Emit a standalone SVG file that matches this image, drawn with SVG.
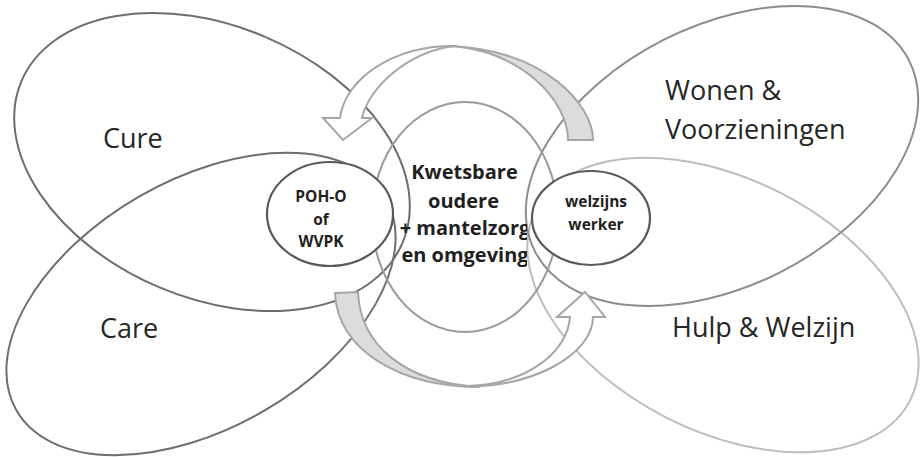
<svg xmlns="http://www.w3.org/2000/svg" width="920" height="457" viewBox="0 0 920 457">
  <defs>
    <style>
      .lobe { fill: none; stroke-width: 2; }
      .cure { stroke: #6e6e6e; }
      .care { stroke: #6e6e6e; }
      .wonen { stroke: #8c8c8c; }
      .hulp { stroke: #bdbdbd; }
      .core { fill: none; stroke: #9a9a9a; stroke-width: 2; }
      .role { fill: #ffffff; stroke: #595959; stroke-width: 2.2; }
      .arrow-front { fill: #ffffff; stroke: #a6a6a6; stroke-width: 2; stroke-linejoin: miter; }
      .arrow-back { fill: #dcdcdc; stroke: #a6a6a6; stroke-width: 2; stroke-linejoin: miter; }
      .big { font-family: "Open Sans", "Noto Sans", sans-serif; font-size: 27px; fill: #262626; }
      .bold { font-family: "Open Sans", "Noto Sans", sans-serif; font-weight: bold; fill: #1f1f1f; }
    </style>
    <clipPath id="coreclip">
      <rect x="380" y="150" width="147" height="130"/>
    </clipPath>
  </defs>

  <g id="hulp-welzijn">
    <ellipse class="lobe hulp" cx="723" cy="305" rx="210" ry="126" transform="rotate(27 723 305)"/>
    <text class="big" x="672" y="337">Hulp &amp; Welzijn</text>
  </g>
  <g id="wonen-voorzieningen">
    <ellipse class="lobe wonen" cx="722" cy="156" rx="210" ry="130" transform="rotate(-27 722 156)"/>
    <text class="big" x="665" y="100">Wonen &amp;</text>
    <text class="big" x="665" y="139">Voorzieningen</text>
  </g>
  <g id="care">
    <ellipse class="lobe care" cx="201" cy="304" rx="213" ry="124" transform="rotate(-30 201 304)"/>
    <text class="big" x="100" y="338">Care</text>
  </g>
  <g id="cure">
    <ellipse class="lobe cure" cx="212" cy="162" rx="207" ry="136" transform="rotate(23 212 162)"/>
    <text class="big" x="103" y="148">Cure</text>
  </g>
  <g id="kwetsbare-oudere">
    <ellipse class="core" cx="465" cy="217" rx="93" ry="115"/>
  </g>
  <g id="poh-o">
    <ellipse class="role" cx="330" cy="214" rx="63" ry="52"/>
    <text class="bold" font-size="15.5" text-anchor="middle" x="321" y="202">POH-O</text>
    <text class="bold" font-size="15.5" text-anchor="middle" x="321" y="225">of</text>
    <text class="bold" font-size="15.5" text-anchor="middle" x="321" y="247">WVPK</text>
  </g>
  <g id="welzijnswerker">
    <ellipse class="role" cx="591" cy="218" rx="59" ry="47"/>
    <text class="bold" font-size="15.5" text-anchor="middle" x="596" y="207">welzijns</text>
    <text class="bold" font-size="15.5" text-anchor="middle" x="596" y="230">werker</text>
  </g>

  <g id="connectors">
    <path class="arrow-back" d="M 568,140 L 593,140 C 593,105 545,50 450,46 C 520,50 568,100 568,140 Z"/>
    <path class="arrow-front" d="M 340,118 L 323,118 L 343,140 L 372,118 L 362,118 C 368,90 405,52 455,46 C 395,45 345,78 340,118 Z"/>
    <path class="arrow-back" d="M 335,293 L 358,292 C 360,345 405,383 480,387 C 400,387 337,350 335,293 Z"/>
    <path class="arrow-front" d="M 593,317 L 605,317 L 585,292 L 557,317 L 570,317 C 568,350 530,384 467,386 C 530,388 593,355 593,317 Z"/>
  </g>

  <g id="kwetsbare-oudere-label" clip-path="url(#coreclip)">
    <text class="bold" font-size="20" text-anchor="middle" x="464.5" y="179">Kwetsbare</text>
    <text class="bold" font-size="20" text-anchor="middle" x="463.5" y="208">oudere</text>
    <text class="bold" font-size="20" text-anchor="middle" x="465" y="235">+ mantelzorg</text>
    <text class="bold" font-size="20" text-anchor="middle" x="465" y="262">en omgeving</text>
  </g>
</svg>
